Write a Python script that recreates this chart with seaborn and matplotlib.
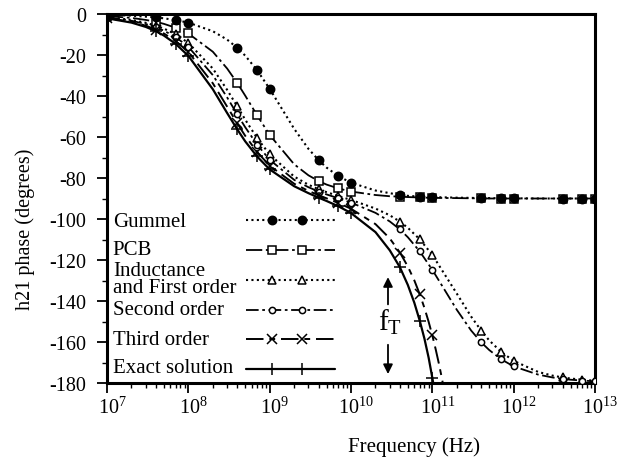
import numpy as np
import pandas as pd
import matplotlib
matplotlib.use("Agg")
import matplotlib.pyplot as plt
import matplotlib.transforms as mtransforms
import seaborn as sns
from matplotlib.ticker import MultipleLocator, LogLocator, NullFormatter

# ---------------- data ----------------
FREQ = [1e7, 2e7, 3e7, 4e7, 5e7, 7e7,
        1e8, 2e8, 3e8, 4e8, 5e8, 7e8,
        1e9, 2e9, 3e9, 4e9, 5e9, 7e9,
        1e10, 2e10, 3e10, 4e10, 5e10, 7e10,
        1e11, 2e11, 3e11, 4e11, 5e11, 7e11,
        1e12, 2e12, 3e12, 4e12, 5e12, 7e12,
        1e13]

GUMMEL = [-0.4, -0.8, -1.3, -1.7, -2.1, -3.0,
          -4.2, -8.4, -12.5, -16.5, -20.3, -27.4,
          -36.5, -56.0, -65.8, -71.3, -74.9, -79.1,
          -82.3, -86.1, -87.4, -88.3, -88.7, -89.1,
          -89.3, -89.6, -89.7, -89.8, -89.8, -89.9,
          -89.9, -90.0, -90.0, -90.0, -90.0, -90.0,
          -90.0]

PCB = [-1.0, -1.9, -2.9, -3.8, -4.8, -6.7,
       -9.5, -18.4, -26.6, -33.7, -39.8, -49.4,
       -59.0, -73.3, -78.7, -81.5, -83.2, -85.1,
       -86.6, -88.3, -88.9, -89.1, -89.3, -89.5,
       -89.7, -89.8, -89.9, -89.9, -90.0, -90.0,
       -90.0, -90.0, -90.0, -90.0, -90.0, -90.0,
       -90.0]

INDUCTANCE = [-1.4, -2.9, -4.3, -5.7, -7.1, -9.9,
              -14.1, -26.6, -37.0, -45.1, -51.5, -60.5,
              -68.5, -79.3, -83.3, -85.5, -86.9, -88.8,
              -90.7, -94.9, -98.2, -101.3, -104.3, -109.9,
              -117.5, -136.4, -147.6, -154.5, -159.2, -164.8,
              -169.2, -174.6, -176.4, -177.3, -177.8, -178.4,
              -178.9]

SECOND = [-1.6, -3.3, -4.9, -6.5, -8.1, -11.3,
          -16.0, -29.8, -40.7, -49.0, -55.2, -63.7,
          -71.1, -80.9, -84.5, -86.6, -88.0, -89.9,
          -92.0, -97.0, -101.2, -105.1, -108.9, -115.8,
          -124.8, -144.3, -154.4, -160.2, -163.9, -168.4,
          -171.9, -175.9, -177.3, -178.0, -178.4, -178.8,
          -179.2]

FREQ_THIRD = [1e7, 2e7, 3e7, 4e7, 5e7, 7e7,
              1e8, 2e8, 3e8, 4e8, 5e8, 7e8,
              1e9, 2e9, 3e9, 4e9, 5e9, 7e9,
              1e10, 2e10, 3e10, 4e10, 5e10, 6e10, 7e10, 8e10, 9e10,
              1e11, 1.1e11, 1.2e11, 1.3e11, 1.4e11]
THIRD = [-1.9, -3.8, -5.7, -7.6, -9.5, -13.2,
         -18.5, -33.8, -45.2, -53.4, -59.4, -67.3,
         -74.0, -82.8, -86.3, -88.4, -89.9, -92.2,
         -95.0, -102.5, -109.5, -116.4, -123.2, -129.9, -136.7, -143.4, -150.1,
         -156.8, -163.6, -170.3, -177.0, -183.7]

FREQ_EXACT = [1e7, 2e7, 3e7, 4e7, 5e7, 7e7,
              1e8, 2e8, 3e8, 4e8, 5e8, 7e8,
              1e9, 2e9, 3e9, 4e9, 5e9, 7e9,
              1e10, 2e10, 3e10, 4e10, 5e10, 6e10, 7e10, 8e10, 9e10,
              1e11, 1.1e11]
EXACT = [-2.1, -4.2, -6.3, -8.4, -10.5, -14.6,
         -20.4, -36.7, -48.3, -56.3, -62.1, -69.5,
         -75.8, -84.0, -87.4, -89.6, -91.2, -93.8,
         -97.1, -106.4, -115.3, -123.6, -132.2, -140.8, -149.6, -158.4, -167.6,
         -177.5, -187.0]

Y_TICKS = [0, -20, -40, -60, -80, -100, -120, -140, -160, -180]

# ---------------- styling ----------------
sns.set_style("ticks")
plt.rcParams["font.family"] = ["Liberation Serif", "DejaVu Serif"]
plt.rcParams["mathtext.fontset"] = "custom"
plt.rcParams["mathtext.rm"] = "Liberation Serif"
plt.rcParams["mathtext.it"] = "Liberation Serif:italic"
plt.rcParams["axes.unicode_minus"] = False

K = "black"
series = [
    dict(label=["Gummel"], x=FREQ, y=GUMMEL, ls=(0, (1.0, 1.6)), lw=1.5,
         marker="o", ms=6.0, mfc=K, z=4),
    dict(label=["PCB"], x=FREQ, y=PCB, ls=(0, (9, 2, 1.5, 2)), lw=1.3,
         marker="s", ms=6.0, mfc="white", z=3),
    dict(label=["Inductance", "and First order"], x=FREQ, y=INDUCTANCE,
         ls=(0, (1.0, 1.6)), lw=1.5, marker="^", ms=5.5, mfc="white", z=3),
    dict(label=["Second order"], x=FREQ, y=SECOND, ls=(0, (7, 2, 1.5, 2)),
         lw=1.3, marker="o", ms=4.5, mfc="white", z=3),
    dict(label=["Third order"], x=FREQ_THIRD, y=THIRD, ls=(0, (9, 3, 3, 3)),
         lw=1.4, marker="x", ms=7.5, mfc=K, z=3),
    dict(label=["Exact solution"], x=FREQ_EXACT, y=EXACT, ls="-", lw=1.6,
         marker="+", ms=9, mfc=K, z=3),
]


def key_points(freqs):
    out = []
    for f in freqs:
        m = f / 10 ** np.floor(np.log10(f))
        out.append(round(m, 6) in (1.0, 4.0, 7.0))
    return out


fig = plt.figure(figsize=(6.28, 4.64), dpi=100)
pos = [107 / 628, 80 / 464, 488 / 628, 369 / 464]
ax = fig.add_axes(pos)
ax.set_xscale("log")

for s in series:
    df = pd.DataFrame({"f": s["x"], "phase": s["y"]})
    sns.lineplot(data=df, x="f", y="phase", ax=ax, color=K, sort=False,
                 linestyle=s["ls"], linewidth=s["lw"], marker=s["marker"],
                 markersize=s["ms"], markerfacecolor=s["mfc"],
                 markeredgecolor=K, markeredgewidth=1.1,
                 markevery=key_points(s["x"]), clip_on=True, zorder=s["z"])

ax.set_xlim(1e7, 1e13)
ax.set_ylim(-180, 0)
ax.set_yticks(Y_TICKS)
ax.yaxis.set_minor_locator(MultipleLocator(10))
ax.xaxis.set_major_locator(LogLocator(base=10, numticks=20))
ax.xaxis.set_minor_locator(LogLocator(base=10, subs=np.arange(2, 10), numticks=100))
ax.xaxis.set_minor_formatter(NullFormatter())
ax.tick_params(which="both", direction="out", color=K, labelcolor=K,
               top=False, right=False)
ax.tick_params(which="major", length=7, width=1.3, labelsize=14.5)
ax.tick_params(which="minor", length=3.5, width=1.0)
ax.tick_params(axis="y", which="major", pad=8)
ax.tick_params(axis="x", which="major", pad=3)
for sp in ax.spines.values():
    sp.set_linewidth(2.2)
    sp.set_color(K)

# shift x tick labels so that the "10" sits on the tick
shift = mtransforms.ScaledTranslation(5 / 100, 0, fig.dpi_scale_trans)
for lab in ax.get_xticklabels():
    lab.set_transform(lab.get_transform() + shift)

ax.set_xlabel("Frequency (Hz)", fontsize=15, color=K)
ax.set_ylabel("h21 phase (degrees)", fontsize=14.5, color=K)
ax.xaxis.set_label_coords(0.629, -0.145)
ax.yaxis.set_label_coords(-0.148, 0.42)

# inward ticks on top and right
ax2 = fig.add_axes(pos, frameon=False)
ax2.set_xscale("log")
ax2.set_xlim(1e7, 1e13)
ax2.set_ylim(-180, 0)
ax2.xaxis.tick_top()
ax2.yaxis.tick_right()
ax2.yaxis.set_major_locator(MultipleLocator(20))
ax2.yaxis.set_minor_locator(MultipleLocator(10))
ax2.xaxis.set_major_locator(LogLocator(base=10, numticks=20))
ax2.xaxis.set_minor_locator(LogLocator(base=10, subs=np.arange(2, 10), numticks=100))
ax2.tick_params(which="both", direction="in", labeltop=False, labelright=False,
                labelbottom=False, labelleft=False, top=True, right=True,
                bottom=False, left=False, color=K)
ax2.tick_params(which="major", length=6, width=1.3)
ax2.tick_params(which="minor", length=3, width=1.0)
ax2.set_zorder(-1)

# legend drawn at left inside the axes
text_x = 0.012
handle_x = [0.285, 0.467]
marker_x = [0.338, 0.400]
handle_y = [0.442, 0.360, 0.279, 0.198, 0.119, 0.038]
text_y = [0.425, 0.350, 0.247, 0.187, 0.106, 0.030]
for s, hy, ty in zip(series, handle_y, text_y):
    ax.text(text_x, ty, "\n".join(s["label"]), transform=ax.transAxes,
            fontsize=15, va="baseline", ha="left", color=K, linespacing=0.85)
    ax.plot(handle_x, [hy, hy], transform=ax.transAxes, color=K,
            linestyle=s["ls"], linewidth=s["lw"])
    ax.plot(marker_x, [hy, hy], transform=ax.transAxes, color=K,
            linestyle="none", marker=s["marker"], markersize=s["ms"],
            markerfacecolor=s["mfc"], markeredgecolor=K, markeredgewidth=1.1)

# f_T annotation
ax.text(3.0e10, -150, r"$\mathrm{f}_\mathrm{T}$", fontsize=21, ha="center",
        va="center", color=K)
ax.annotate("", xy=(2.85e10, -127), xytext=(2.85e10, -143),
            arrowprops=dict(arrowstyle="-|>", color=K, lw=1.3,
                            mutation_scale=14))
ax.annotate("", xy=(2.85e10, -177), xytext=(2.85e10, -160),
            arrowprops=dict(arrowstyle="-|>", color=K, lw=1.3,
                            mutation_scale=14))

fig.savefig("out.png", dpi=100)
